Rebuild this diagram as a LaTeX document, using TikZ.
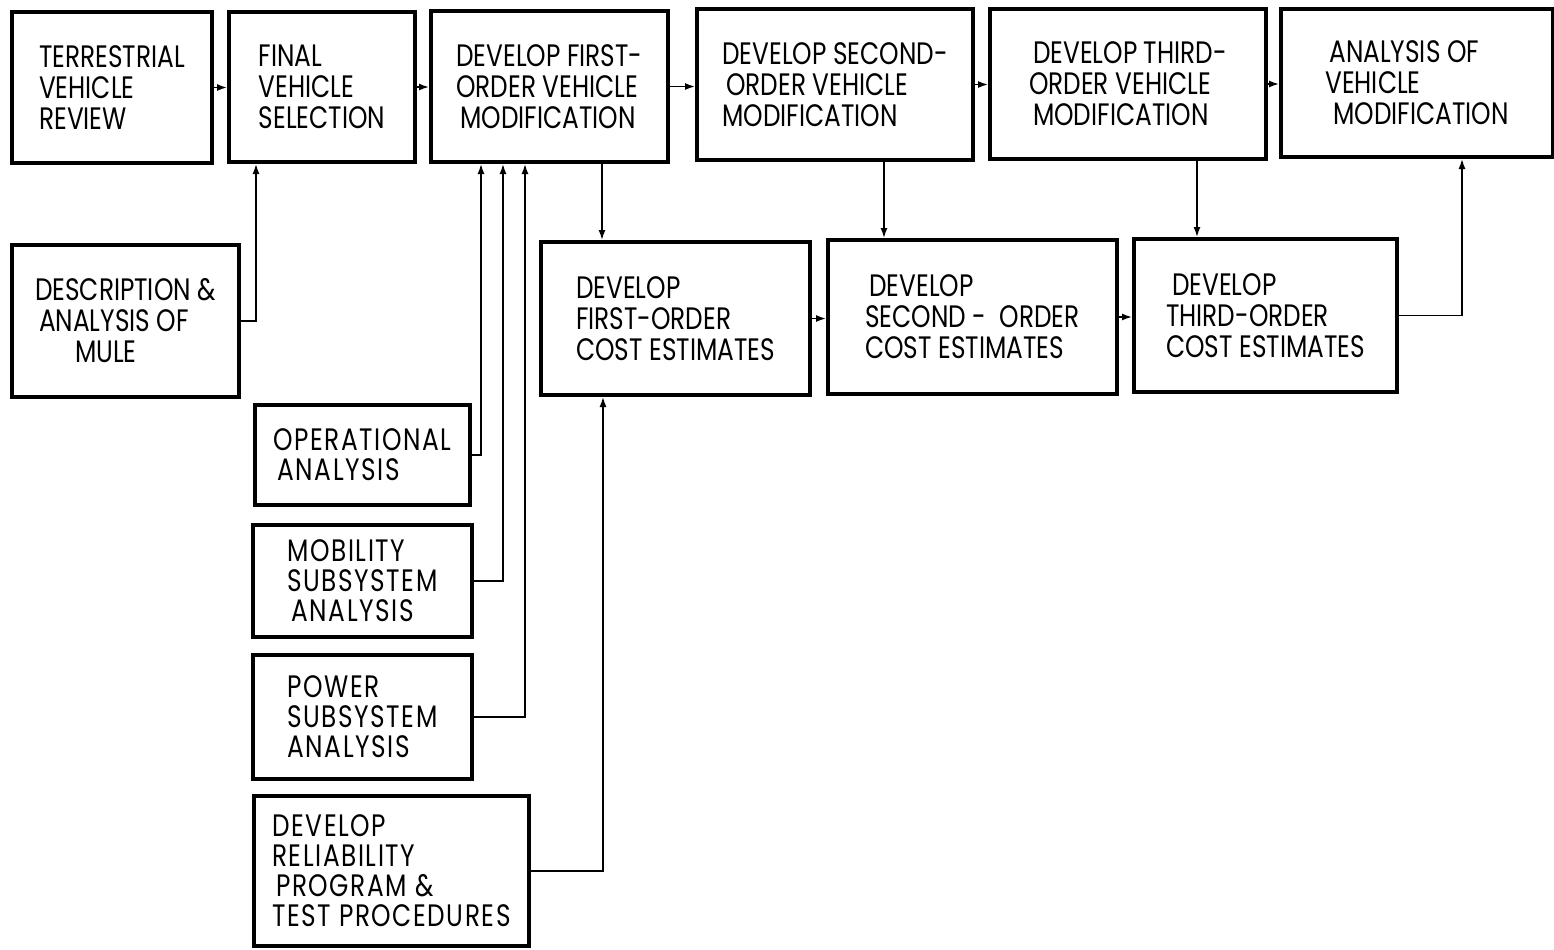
\documentclass[tikz,border=0pt]{standalone}
\usepackage{fontspec}
\setmainfont[FakeStretch=0.8]{Poppins}
\usetikzlibrary{calc,arrows.meta}
\begin{document}
\begin{tikzpicture}[x=0.5pt,y=-0.5pt,
  box/.style={draw,line width=2pt,inner sep=0pt,align=left,
    font=\fontsize{15.5pt}{15.5pt}\selectfont},
  lowbox/.style={box,font=\fontsize{15.5pt}{15pt}\selectfont\addfontfeature{LetterSpace=5}},
  sz/.style 2 args={minimum width=#1*0.5pt,minimum height=#2*0.5pt},
  arr/.style={line width=0.75pt,-{Latex[length=5pt,width=3.5pt]}}]
\useasboundingbox (0,0) rectangle (1554,949);
% top row
\node[box,sz={200}{151}] (terr) at (112,87.5) {TERRESTRIAL\\VEHICLE\\REVIEW};
\node[box,sz={186}{150}] (final) at (322,87) {FINAL\\VEHICLE\\SELECTION};
\node[box,sz={237}{151}] (first) at (549.5,86.5) {DEVELOP FIRST-\\ORDER VEHICLE\\\hspace*{2pt}MODIFICATION};
\node[box,sz={276}{151}] (second) at (835,84.5) {DEVELOP SECOND-\\\hspace*{2pt}ORDER VEHICLE\\MODIFICATION};
\node[box,sz={276}{150}] (third) at (1128,84) {\hspace*{2pt}DEVELOP THIRD-\\ORDER VEHICLE\\\hspace*{2pt}MODIFICATION};
\node[box,sz={272}{148}] (anal) at (1417,83) {\hspace*{2pt}ANALYSIS OF\\VEHICLE\\\hspace*{4pt}MODIFICATION};
% cost row
\node[box,sz={269}{153}] (cost1) at (675.5,318.5) {DEVELOP\\FIRST-ORDER\\COST ESTIMATES};
\node[box,sz={289}{154}] (cost2) at (972.5,317) {\hspace*{2pt}DEVELOP\\SECOND -\ \ ORDER\\COST ESTIMATES};
\node[box,sz={263}{153}] (cost3) at (1265.5,315.5) {\hspace*{3pt}DEVELOP\\THIRD-ORDER\\COST ESTIMATES};
% left inputs
\node[box,sz={227}{152}] (mule) at (125.5,321) {DESCRIPTION \&\\\hspace*{2pt}ANALYSIS OF\\\hspace*{20pt}MULE};
\node[lowbox,sz={215}{100}] (oper) at (362.5,455) {OPERATIONAL\\\hspace*{2pt}ANALYSIS};
\node[lowbox,sz={219}{112}] (mob) at (362.5,581) {MOBILITY\\SUBSYSTEM\\\hspace*{2pt}ANALYSIS};
\node[lowbox,sz={219}{124}] (power) at (362.5,717) {POWER\\SUBSYSTEM\\ANALYSIS};
\node[lowbox,sz={275}{150}] (rel) at (391.5,871) {DEVELOP\\RELIABILITY\\\hspace*{2pt}PROGRAM \&\\TEST PROCEDURES};
% top row connectors
\draw[arr] (terr.east) -- (terr.east -| final.west);
\draw[arr] (final.east) -- (final.east -| first.west);
\draw[arr] (first.east) -- (first.east -| second.west);
\draw[arr] (second.east) -- (second.east -| third.west);
\draw[arr] (third.east) -- (third.east -| anal.west);
% down to cost estimates
\coordinate (d1) at ($(first.south west)+(173,0)$);
\coordinate (d2) at ($(second.south west)+(189,0)$);
\coordinate (d3) at ($(third.south west)+(209,0)$);
\draw[arr] (d1) -- (d1 |- cost1.north);
\draw[arr] (d2) -- (d2 |- cost2.north);
\draw[arr] (d3) -- (d3 |- cost3.north);
% cost row connectors
\draw[arr] (cost1.east) -- (cost1.east -| cost2.west);
\draw[arr] (cost2.east) -- (cost2.east -| cost3.west);
\coordinate (u4) at ($(anal.south west)+(183,0)$);
\draw[arr] (cost3.east) -| (u4);
% mule to final
\coordinate (u0) at ($(final.south west)+(29,0)$);
\draw[arr] (mule.east) -| (u0);
% analyses to first
\coordinate (u1) at ($(first.south west)+(52,0)$);
\coordinate (u2) at ($(first.south west)+(74,0)$);
\coordinate (u3) at ($(first.south west)+(96,0)$);
\draw[arr] (oper.east) -| (u1);
\draw[arr] (mob.east) -| (u2);
\draw[arr] (power.east) -| (u3);
\coordinate (u5) at ($(cost1.south west)+(64,0)$);
\draw[arr] (rel.east) -| (u5);
\end{tikzpicture}
\end{document}
